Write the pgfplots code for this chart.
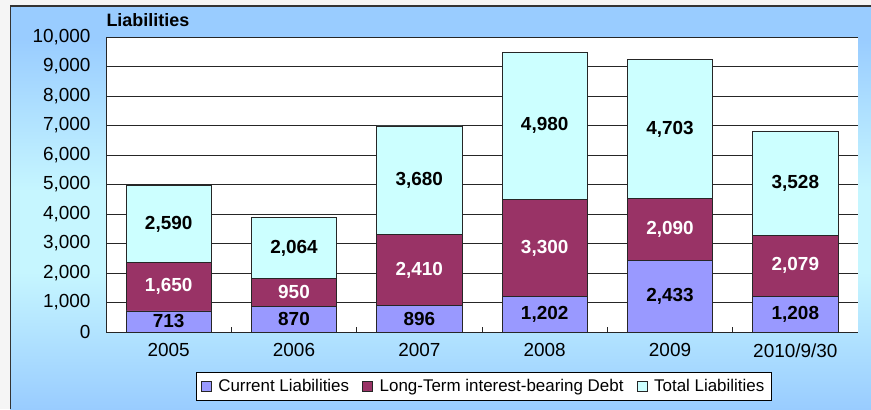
\documentclass[border=0pt]{standalone}
\usepackage{fontspec}
\setmainfont{Liberation Sans}
\usepackage{pgfplots}
\pgfplotsset{compat=1.18}
\definecolor{curl}{HTML}{9999FF}
\definecolor{ltd}{HTML}{993366}
\definecolor{totl}{HTML}{CCFFFF}
\definecolor{bgblue}{HTML}{99CCFF}
\definecolor{bglight}{HTML}{C6F6FF}
\pgfdeclareverticalshading{bgshade}{100bp}{color(0bp)=(bgblue); color(25bp)=(bgblue); color(42bp)=(bglight); color(52bp)=(bglight); color(71bp)=(bgblue); color(100bp)=(bgblue)}
\pgfplotsset{sqlegend/.style={legend image code/.code={\draw[##1, draw=black!85, line width=0.6bp] (0bp,-5bp) rectangle (10bp,5bp);}},
  geom/.style={at={(106bp,77bp)}, anchor=south west, scale only axis, width=752bp, height=295bp,
  xmin=-0.5, xmax=5.5, ymin=0, ymax=10000},
  vlab/.style={only marks, mark=none, nodes near coords, point meta=explicit symbolic,
    every node near coord/.style={anchor=center, inner sep=0pt, font=\bfseries\fontsize{19}{22}\selectfont, text=#1}}}
\begin{document}
\begin{tikzpicture}[x=1bp,y=1bp]
\useasboundingbox (0,0) rectangle (871,409);
\fill[gray!8] (0,0) rectangle (871,409);
\shade[shading=bgshade] (10,0) rectangle (871,403);
\draw[black!80, line width=1.5bp] (10.5,0) -- (10.5,403) -- (871,403);
\begin{axis}[
  geom,
  ybar stacked, bar width=0.68,
  axis background/.style={fill=white},
  axis x line*=bottom, axis y line*=left,
  axis line style={black!85, line width=0.9bp},
  tick align=inside,
  xtick={0,...,5}, xticklabels={2005,2006,2007,2008,2009,2010/9/30},
  major x tick style={draw=none},
  minor xtick={0.5,1.5,2.5,3.5,4.5},
  minor tick length=5bp,
  major tick length=5bp,
  ytick={0,1000,...,10000},
  ymajorgrids, major grid style={black!85, line width=0.8bp},
  tick style={black!85, line width=0.8bp},
  scaled y ticks=false,
  /pgf/number format/1000 sep={,},
  /pgf/number format/assume math mode=true,
  tick label style={font=\fontsize{19}{22}\selectfont, text=black},
  yticklabel style={xshift=-12bp},
  xticklabel style={yshift=-8bp},
  legend style={at={(0.502,-0.136)}, anchor=north, legend columns=-1, draw=black, fill=white,
    font=\fontsize{17}{20}\selectfont, inner xsep=5bp, inner ysep=5bp,
    /tikz/every odd column/.append style={column sep=5bp},
    /tikz/every even column/.append style={column sep=11bp}},
]
\addplot[fill=curl, draw=black!85, line width=0.8bp, sqlegend] coordinates {(0,713) (1,870) (2,896) (3,1202) (4,2433) (5,1208)};
\addplot[fill=ltd, draw=black!85, line width=0.8bp, sqlegend] coordinates {(0,1650) (1,950) (2,2410) (3,3300) (4,2090) (5,2079)};
\addplot[fill=totl, draw=black!85, line width=0.8bp, sqlegend] coordinates {(0,2590) (1,2064) (2,3680) (3,4980) (4,4703) (5,3528)};
\legend{Current Liabilities, Long-Term interest-bearing Debt, Total Liabilities}
\end{axis}
\begin{axis}[geom, hide axis, clip=false]
\addplot[vlab=black] coordinates {(0,356.5) [713] (1,435) [870] (2,448) [896] (3,601) [1,202] (4,1216.5) [2,433] (5,604) [1,208]};
\addplot[vlab=white] coordinates {(0,1538) [1,650] (1,1345) [950] (2,2101) [2,410] (3,2852) [3,300] (4,3478) [2,090] (5,2247.5) [2,079]};
\addplot[vlab=black] coordinates {(0,3658) [2,590] (1,2852) [2,064] (2,5146) [3,680] (3,6992) [4,980] (4,6874.5) [4,703] (5,5051) [3,528]};
\end{axis}
\node[anchor=base west, font=\bfseries\fontsize{18}{20}\selectfont] at (103,383) {Liabilities};
\end{tikzpicture}
\end{document}
